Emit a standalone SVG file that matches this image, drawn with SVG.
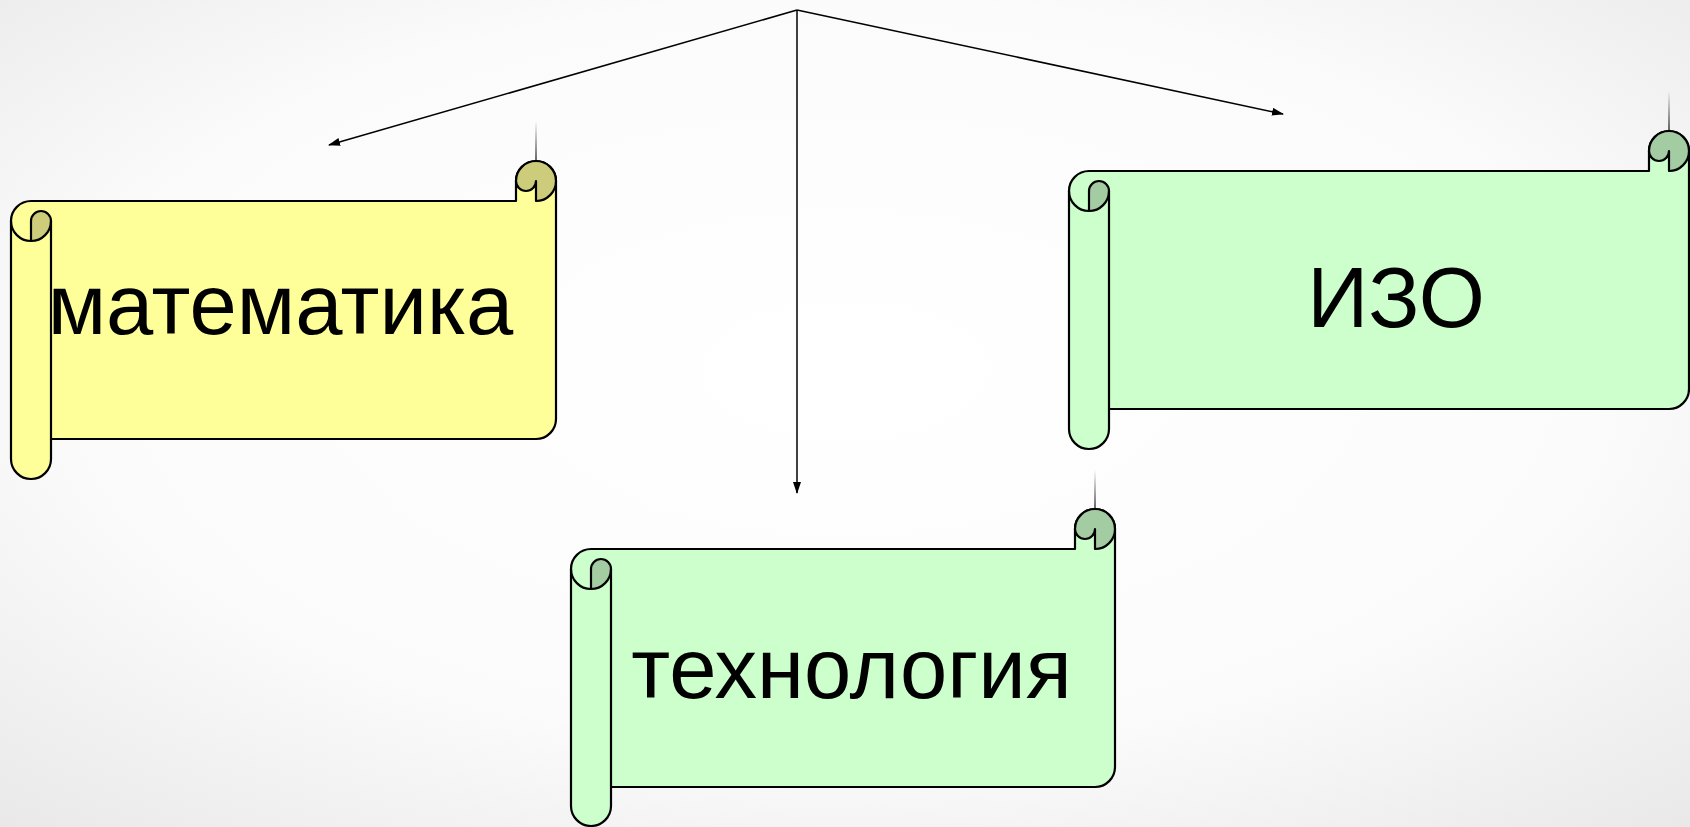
<svg xmlns="http://www.w3.org/2000/svg" width="1690" height="827" viewBox="0 0 1690 827">
<defs>
<radialGradient id="bg" cx="50%" cy="45%" r="75%">
<stop offset="0" stop-color="#ffffff"/>
<stop offset="0.6" stop-color="#fbfbfb"/>
<stop offset="1" stop-color="#e8e8e8"/>
</radialGradient>
<linearGradient id="fade" x1="0" y1="0" x2="0" y2="1">
<stop offset="0" stop-color="#000" stop-opacity="0"/>
<stop offset="1" stop-color="#000" stop-opacity="1"/>
</linearGradient>
<marker id="arr" viewBox="0 0 12 8" refX="11" refY="4" markerWidth="12" markerHeight="8" markerUnits="userSpaceOnUse" orient="auto">
<path d="M0,0 L12,4 L0,8 Z" fill="#000"/>
</marker>
</defs>
<style>
.ln{stroke:#000;stroke-width:2.2;fill:none;stroke-linejoin:round}
.yl{fill:#FFFF99;stroke:#000;stroke-width:2.2;stroke-linejoin:round}
.yd{fill:#CCCC7A;stroke:#000;stroke-width:2.2;stroke-linejoin:round}
.gl{fill:#CCFFCC;stroke:#000;stroke-width:2.2;stroke-linejoin:round}
.gd{fill:#A3CCA3;stroke:#000;stroke-width:2.2;stroke-linejoin:round}
.conn{stroke:#000;stroke-width:1.5;fill:none}
.t{font-family:"Liberation Sans",Arial,sans-serif;font-size:85px;fill:#000;text-anchor:middle}
</style>
<rect width="1690" height="827" fill="url(#bg)"/>

<g id="connectors">
<line class="conn" x1="797" y1="10" x2="329" y2="145" marker-end="url(#arr)"/>
<line class="conn" x1="797" y1="10" x2="797" y2="493" marker-end="url(#arr)"/>
<line class="conn" x1="797" y1="10" x2="1283" y2="114" marker-end="url(#arr)"/>
</g>

<g id="node-math">
<rect x="535.4" y="121" width="1.2" height="40" fill="url(#fade)"/>
<path class="yl" d="M11,221 A20,20 0 0 1 31,201 L516,201 L516,181 A20,20 0 0 1 556,181 L556,419 A20,20 0 0 1 536,439 L51,439 L51,459 A20,20 0 0 1 11,459 Z"/>
<path class="yd" d="M516,181 A20,20 0 0 1 556,181 A20,20 0 0 1 536,201 L536,181 A10,10 0 0 1 516,181 Z"/>
<path class="yd" d="M31,221 A10,10 0 0 1 51,221 A20,20 0 0 1 31,241 Z"/>
<path class="ln" d="M11,221 A20,20 0 0 0 31,241 M51,221 L51,439"/>
<text class="t" x="280.5" y="334">математика</text>
</g>

<g id="node-izo">
<rect x="1668.4" y="91" width="1.2" height="40" fill="url(#fade)"/>
<path class="gl" d="M1069,191 A20,20 0 0 1 1089,171 L1649,171 L1649,151 A20,20 0 0 1 1689,151 L1689,389 A20,20 0 0 1 1669,409 L1109,409 L1109,429 A20,20 0 0 1 1069,429 Z"/>
<path class="gd" d="M1649,151 A20,20 0 0 1 1689,151 A20,20 0 0 1 1669,171 L1669,151 A10,10 0 0 1 1649,151 Z"/>
<path class="gd" d="M1089,191 A10,10 0 0 1 1109,191 A20,20 0 0 1 1089,211 Z"/>
<path class="ln" d="M1069,191 A20,20 0 0 0 1089,211 M1109,191 L1109,409"/>
<text class="t" x="1396" y="327">ИЗО</text>
</g>

<g id="node-tech">
<rect x="1094.4" y="470" width="1.2" height="39" fill="url(#fade)"/>
<path class="gl" d="M571,569 A20,20 0 0 1 591,549 L1075,549 L1075,529 A20,20 0 0 1 1115,529 L1115,767 A20,20 0 0 1 1095,787 L611,787 L611,806 A20,20 0 0 1 571,806 Z"/>
<path class="gd" d="M1075,529 A20,20 0 0 1 1115,529 A20,20 0 0 1 1095,549 L1095,529 A10,10 0 0 1 1075,529 Z"/>
<path class="gd" d="M591,569 A10,10 0 0 1 611,569 A20,20 0 0 1 591,589 Z"/>
<path class="ln" d="M571,569 A20,20 0 0 0 591,589 M611,569 L611,787"/>
<text class="t" x="851.5" y="698">технология</text>
</g>
</svg>
